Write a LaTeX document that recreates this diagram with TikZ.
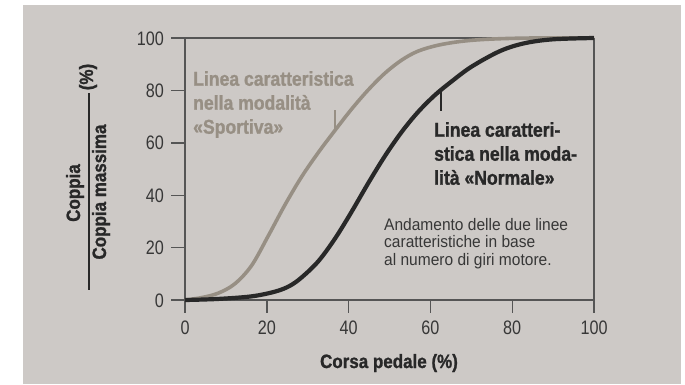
\documentclass[tikz,border=0pt]{standalone}
\usepackage{fontspec}
\setmainfont{Liberation Sans}
\newfontfamily\lightf[FakeStretch=0.83]{Liberation Sans}
\newfontfamily\smallf[FakeStretch=0.93]{Liberation Sans}
\newfontfamily\boldf[FakeStretch=0.88, BoldFeatures={FakeBold=1.2}]{Liberation Sans}
\definecolor{bg}{RGB}{205,201,198}
\definecolor{sport}{RGB}{151,143,132}
\definecolor{norm}{RGB}{40,40,40}
\definecolor{axiscol}{RGB}{85,85,85}
\definecolor{txt}{RGB}{55,55,55}
\begin{document}
\begin{tikzpicture}[x=1pt,y=-1pt,
  axisline/.style={draw=axiscol, line width=1.4pt},
  ticklab/.style={font=\lightf\fontsize{19.5}{19.5}\selectfont, text=txt, inner sep=0pt},
  boldlab/.style={font=\boldf\bfseries\fontsize{19.3}{24}\selectfont, text=norm, inner sep=0pt},
  annlab/.style={font=\boldf\bfseries\fontsize{20}{24}\selectfont, inner sep=0pt, align=left, anchor=north west},
  smalllab/.style={font=\smallf\fontsize{16.7}{17.5}\selectfont, text=txt, inner sep=0pt, align=left, anchor=north west},
  sportline/.style={draw=sport, line width=3.6pt},
  normline/.style={draw=norm, line width=4.2pt},
  marker/.style={line width=2.6pt}]
\useasboundingbox (0,0) rectangle (685,384);
\fill[bg] (23,5) rectangle (681,384);
% y-axis label
\node[boldlab, rotate=90, anchor=base] (num) at (80,193) {Coppia};
\node[boldlab, rotate=90, anchor=base] (den) at (106,192) {Coppia massima};
\node[boldlab, rotate=90, anchor=base] (pct) at (93,77) {(\%)};
\coordinate (barTop) at (89,93);
\coordinate (barBot) at (89,290);
\draw[draw=norm, line width=1.5pt] (barTop) -- (barBot);
% x-axis label
\node[boldlab, anchor=base] (xlab) at (389,368) {Corsa pedale (\%)};
\begin{scope}[shift={(185,300)}, x=4.09pt, y=2.62pt]
  % frame
  \coordinate (o) at (0,0);
  \draw[axisline] ([xshift=-14pt]0,100) -- (100,100);
  \draw[axisline] ([xshift=-14pt]0,0) -- (100,0);
  \draw[axisline] (0,100) -- ([yshift=-13pt]0,0);
  \draw[axisline] (100,100) -- ([yshift=-13pt]100,0);
  \foreach \v in {20,40,60,80} {
    \draw[axisline] ([xshift=-14pt]0,\v) -- (0,\v);
    \draw[axisline] (\v,0) -- ([yshift=-13pt]\v,0);
  }
  \foreach \v in {0,20,40,60,80,100} {
    \node[ticklab, anchor=base east] (yl\v) at ([xshift=-21pt,yshift=-7pt]0,\v) {\v};
    \node[ticklab, anchor=base] (xl\v) at ([yshift=-34pt]\v,0) {\v};
  }
  % curves
  \draw[sportline] plot[smooth, tension=0.55] coordinates {
    (0,0) (4,0.9) (8.1,2.6) (12.2,6.2) (16.3,13.2) (20.4,24.6) (24.4,36.2)
    (28.5,47.0) (32.6,56.3) (36.7,64.8) (40.7,72.8) (44.8,80.2) (48.9,86.6)
    (53,91.6) (57,95.0) (62,97.3) (68,98.8) (75,99.6) (85,100) (100,100)};
  \draw[normline] plot[smooth, tension=0.55] coordinates {
    (0,0) (8,0.4) (16.3,1.4) (22,3.2) (25.5,5.3) (28.5,8.6) (32.6,14.8) (36.7,23.5)
    (40.7,33.6) (44.8,44.6) (48.9,55.0) (53,64.2) (57,71.8) (61.1,78.2)
    (65,83.2) (70,89.0) (77,95.0) (83,98.0) (90,99.5) (100,100)};
  \coordinate (gt) at (36.7,64.8);
  \coordinate (bt) at (62.6,79.6);
\end{scope}
\coordinate (gtEnd) at ([yshift=20pt]gt);
\coordinate (btEnd) at ([yshift=-20pt]bt);
\draw[marker, draw=sport] (gt) -- (gtEnd);
\draw[marker, draw=norm] (bt) -- (btEnd);
% annotations
\node[annlab, text=sport] (sportlab) at (193,71) {Linea caratteristica\\nella modalità\\«Sportiva»};
\node[annlab, text=norm] (normlab) at (434,122) {Linea caratteri-\\stica nella moda-\\lità «Normale»};
\node[smalllab] (note) at (384,218) {Andamento delle due linee\\caratteristiche in base\\al numero di giri motore.};
\end{tikzpicture}
\end{document}
